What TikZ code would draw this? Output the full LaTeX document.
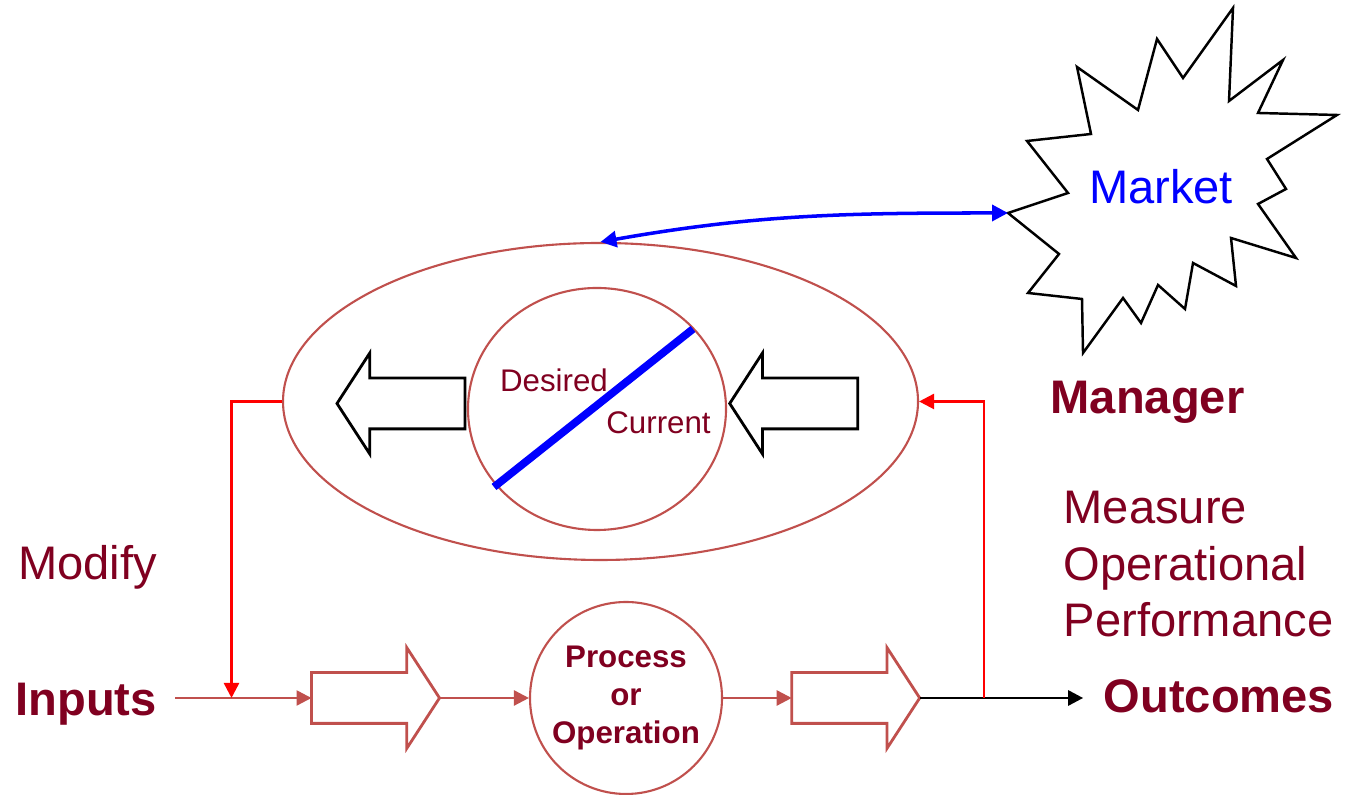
\documentclass[tikz,border=0pt]{standalone}
\usepackage{fontspec}
\setmainfont{Liberation Sans}
\usetikzlibrary{shapes.geometric,shapes.arrows,arrows.meta}

\definecolor{wine}{RGB}{128,0,32}
\definecolor{rim}{RGB}{192,80,77}

\begin{document}
\begin{tikzpicture}[
  big/.style={inner sep=0pt,text=wine,font=\fontsize{13.4}{16.2}\selectfont},
  bigbold/.style={big,font=\fontsize{13.4}{16.2}\selectfont\bfseries},
  small/.style={inner sep=0pt,text=wine,font=\fontsize{8.9}{10.8}\selectfont},
  hollow/.style={single arrow,draw,line width=0.8pt,minimum height=1.28cm,
    single arrow head extend=0.25cm,single arrow tip angle=114,inner xsep=0pt,inner ysep=0.24cm,outer sep=0pt},
  ring/.style={ellipse,draw=rim,line width=0.6pt,inner sep=0pt},
  tri/.style={-{Triangle[length=1.5mm,width=1.5mm]}},
  rimline/.style={rim,line width=0.7pt,tri},
  redline/.style={red,line width=0.7pt,tri}
]
\useasboundingbox (0,0) rectangle (13.46,7.95);

% manager
\node[ring,minimum width=6.35cm,minimum height=3.17cm] (mind) at (6.005,3.935) {};
\node[ring,minimum width=2.58cm,minimum height=2.42cm] (gap) at (5.97,3.86) {};
\draw[blue,line width=2.2pt] (4.94,3.08) -- (6.93,4.66);
\node[small,anchor=base] (desired) at (5.54,4.03) {Desired};
\node[small,anchor=base] (current) at (6.585,3.61) {Current};

\node[hollow,shape border rotate=180,anchor=tail] (modarrow) at (4.65,3.915) {};
\node[hollow,shape border rotate=180,anchor=tail] (measarrow) at (8.577,3.915) {};

% market
\draw[black,line width=0.7pt] (10.08,5.82) coordinate (starL) -- (10.68,6.02) -- (10.27,6.54) -- (10.91,6.61)
  -- (10.77,7.28) -- (11.38,6.85) -- (11.57,7.56) -- (11.83,7.17) -- (12.33,7.87) -- (12.29,6.94)
  -- (12.83,7.35) -- (12.58,6.82) -- (13.37,6.80) -- (12.67,6.36) -- (12.86,6.06) -- (12.58,5.91)
  -- (12.96,5.37) -- (12.31,5.57) -- (12.36,5.09) -- (11.93,5.32) -- (11.85,4.86) -- (11.58,5.10)
  -- (11.41,4.72) -- (11.23,4.97) -- (10.83,4.42) -- (10.82,4.96) -- (10.28,5.02) -- (10.59,5.41) -- cycle;
\node[big,text=blue,anchor=base] (market) at (11.61,5.91) {Market};
\draw[blue,line width=1pt,{Triangle[length=1.6mm,width=1.6mm]}-{Triangle[length=1.6mm,width=1.6mm]}]
  (mind.north) to[out=10,in=180] (starL);

% labels
\node[bigbold,anchor=base] (manager) at (11.475,3.81) {Manager};
\node[big,align=left,anchor=north west] (measure) at (10.63,3.05) {Measure\\Operational\\Performance};
\node[big,anchor=base] (modify) at (0.875,2.15) {Modify};
\node[bigbold,anchor=base] (inputs) at (0.86,0.79) {Inputs};
\node[bigbold,anchor=base] (outcomes) at (12.19,0.82) {Outcomes};

% process line
\node[circle,draw=rim,line width=0.6pt,minimum size=1.92cm,inner sep=0pt,align=center,
  text=wine,font=\fontsize{8.9}{10.8}\selectfont\bfseries] (proc) at (6.26,0.97) {Process\\or\\Operation};
\node[hollow,draw=rim,anchor=tail] (inarrow) at (3.115,0.97) {};
\node[hollow,draw=rim,anchor=tail] (outarrow) at (7.917,0.97) {};

\coordinate (drop) at (2.315,0.97);
\coordinate (tap) at (9.84,0.97);

\draw[rimline] ([xshift=1.8mm]inputs.east |- inarrow.tail) -- (inarrow.tail);
\draw[rimline] (inarrow.tip) -- (proc.west);
\draw[rimline] (proc.east) -- (outarrow.tail);
\draw[black,line width=0.8pt,tri] (outarrow.tip) -- ([xshift=-2mm]outcomes.west |- outarrow.tip);

\draw[redline] (mind.west) -| (drop);
\draw[redline] (tap) |- (mind.east);

\end{tikzpicture}
\end{document}
